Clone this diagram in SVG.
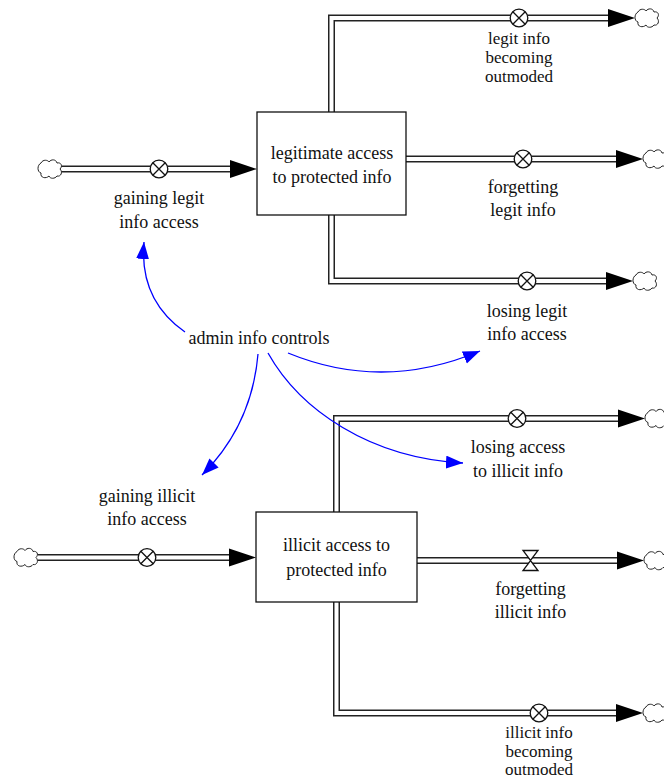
<svg xmlns="http://www.w3.org/2000/svg" xmlns:xlink="http://www.w3.org/1999/xlink" width="664" height="779" viewBox="0 0 664 779">
  <style>
    .lbl { font-family: "Liberation Serif", "Times New Roman", serif; font-size: 18px; fill: #111; text-anchor: middle; }
    .tight { font-size: 17px; }
    .pipeOuter { fill: none; stroke: #222; stroke-width: 7; stroke-linejoin: miter; }
    .pipeInner { fill: none; stroke: #fff; stroke-width: 4; stroke-linejoin: miter; }
    .stock { fill: #fff; stroke: #111; stroke-width: 1.3; }
    .valve { fill: #fff; stroke: #111; stroke-width: 1.3; }
    .cloud { fill: #fff; stroke: #222; stroke-width: 1; }
    .link { fill: none; stroke: #0000ff; stroke-width: 1.3; marker-end: url(#linkHead); }
    .head { fill: #000; }
  </style>
  <defs>
    <marker id="linkHead" markerUnits="userSpaceOnUse" markerWidth="18" markerHeight="14" refX="17" refY="6.5" orient="auto">
      <path d="M0,0 L17,6.5 L0,13 Z" fill="#0000ff"/>
    </marker>
    <path id="cloud" class="cloud" d="M-9,-6 C-7,-10 -2,-9 -1,-7 C1,-10 6,-10 7,-6 C11,-7 13,-3 10,0 C13,3 11,8 7,7 C5,10 0,10 -1,7 C-4,10 -10,9 -9,4 C-13,3 -13,-4 -9,-6 Z"/>
    <path id="pipeHead" class="head" d="M-27,-9 L0,0 L-27,9 Z"/>
    <g id="xValve">
      <circle class="valve" r="8.8"/>
      <path d="M-6.2,-6.2 L6.2,6.2 M-6.2,6.2 L6.2,-6.2" stroke="#111" stroke-width="1.3"/>
    </g>
  </defs>

  <!-- flow pipes and information links -->
  <g id="connectors">
    <g id="pipes">
      <polyline class="pipeOuter" points="61,169 240,169"/>
      <polyline class="pipeInner" points="61,169 240,169"/>
      <polyline class="pipeOuter" points="331.5,112 331.5,18 620,18"/>
      <polyline class="pipeInner" points="331.5,112 331.5,18 620,18"/>
      <polyline class="pipeOuter" points="406,159 625,159"/>
      <polyline class="pipeInner" points="406,159 625,159"/>
      <polyline class="pipeOuter" points="331.5,215 331.5,281 615,281"/>
      <polyline class="pipeInner" points="331.5,215 331.5,281 615,281"/>

      <polyline class="pipeOuter" points="38,557.5 240,557.5"/>
      <polyline class="pipeInner" points="38,557.5 240,557.5"/>
      <polyline class="pipeOuter" points="336.5,512 336.5,418.5 630,418.5"/>
      <polyline class="pipeInner" points="336.5,512 336.5,418.5 630,418.5"/>
      <polyline class="pipeOuter" points="417,560.5 630,560.5"/>
      <polyline class="pipeInner" points="417,560.5 630,560.5"/>
      <polyline class="pipeOuter" points="336.5,602 336.5,713 625,713"/>
      <polyline class="pipeInner" points="336.5,602 336.5,713 625,713"/>

      <use xlink:href="#pipeHead" x="257" y="169"/>
      <use xlink:href="#pipeHead" x="635" y="18"/>
      <use xlink:href="#pipeHead" x="643" y="159"/>
      <use xlink:href="#pipeHead" x="633" y="281"/>
      <use xlink:href="#pipeHead" x="256" y="557.5"/>
      <use xlink:href="#pipeHead" x="645" y="418.5"/>
      <use xlink:href="#pipeHead" x="644" y="560.5"/>
      <use xlink:href="#pipeHead" x="643" y="713"/>
    </g>
    <g id="links">
      <path class="link" d="M185,332 Q139,300 144,242"/>
      <path class="link" d="M288,353 Q383,392 480,351"/>
      <path class="link" d="M258,354 Q252,425 202,475"/>
      <path class="link" d="M268,353 C300,410 370,458 463,463"/>
    </g>
  </g>

  <!-- sources and sinks -->
  <g id="clouds">
    <use xlink:href="#cloud" x="50" y="169"/>
    <use xlink:href="#cloud" x="647" y="18"/>
    <use xlink:href="#cloud" x="655" y="159"/>
    <use xlink:href="#cloud" x="645" y="281"/>
    <use xlink:href="#cloud" x="26" y="557.5"/>
    <use xlink:href="#cloud" x="657" y="418.5"/>
    <use xlink:href="#cloud" x="656" y="560.5"/>
    <use xlink:href="#cloud" x="655" y="713"/>
  </g>

  <!-- stocks -->
  <g id="legitimate-access">
    <rect class="stock" x="257" y="112" width="149" height="103"/>
    <text class="lbl" x="332" y="159">legitimate access</text>
    <text class="lbl" x="332" y="183">to protected info</text>
  </g>
  <g id="illicit-access">
    <rect class="stock" x="256" y="512" width="161" height="90"/>
    <text class="lbl" x="336.5" y="551">illicit access to</text>
    <text class="lbl" x="336.5" y="576">protected info</text>
  </g>

  <!-- flows -->
  <g id="gaining-legit-info-access">
    <use xlink:href="#xValve" x="159" y="169"/>
    <text class="lbl" x="159" y="204">gaining legit</text>
    <text class="lbl" x="159" y="228">info access</text>
  </g>
  <g id="legit-info-becoming-outmoded">
    <use xlink:href="#xValve" x="519" y="18"/>
    <text class="lbl tight" x="519" y="44">legit info</text>
    <text class="lbl tight" x="519" y="63">becoming</text>
    <text class="lbl tight" x="519" y="82">outmoded</text>
  </g>
  <g id="forgetting-legit-info">
    <use xlink:href="#xValve" x="523" y="159"/>
    <text class="lbl" x="523" y="193">forgetting</text>
    <text class="lbl" x="523" y="216">legit info</text>
  </g>
  <g id="losing-legit-info-access">
    <use xlink:href="#xValve" x="527" y="281"/>
    <text class="lbl" x="527" y="317">losing legit</text>
    <text class="lbl" x="527" y="340">info access</text>
  </g>
  <g id="gaining-illicit-info-access">
    <use xlink:href="#xValve" x="147" y="557.5"/>
    <text class="lbl" x="147" y="502">gaining illicit</text>
    <text class="lbl" x="147" y="525">info access</text>
  </g>
  <g id="losing-access-to-illicit-info">
    <use xlink:href="#xValve" x="517" y="418.5"/>
    <text class="lbl" x="518" y="453">losing access</text>
    <text class="lbl" x="518" y="477">to illicit info</text>
  </g>
  <g id="forgetting-illicit-info">
    <path class="valve" d="M523,550.5 L538,550.5 L530.5,560.5 Z M523,570.5 L538,570.5 L530.5,560.5 Z"/>
    <text class="lbl" x="530.5" y="595">forgetting</text>
    <text class="lbl" x="530.5" y="618">illicit info</text>
  </g>
  <g id="illicit-info-becoming-outmoded">
    <use xlink:href="#xValve" x="539" y="713"/>
    <text class="lbl tight" x="539" y="738">illicit info</text>
    <text class="lbl tight" x="539" y="757">becoming</text>
    <text class="lbl tight" x="539" y="775">outmoded</text>
  </g>

  <!-- auxiliary -->
  <g id="admin-info-controls">
    <text class="lbl" x="259" y="344">admin info controls</text>
  </g>
</svg>
